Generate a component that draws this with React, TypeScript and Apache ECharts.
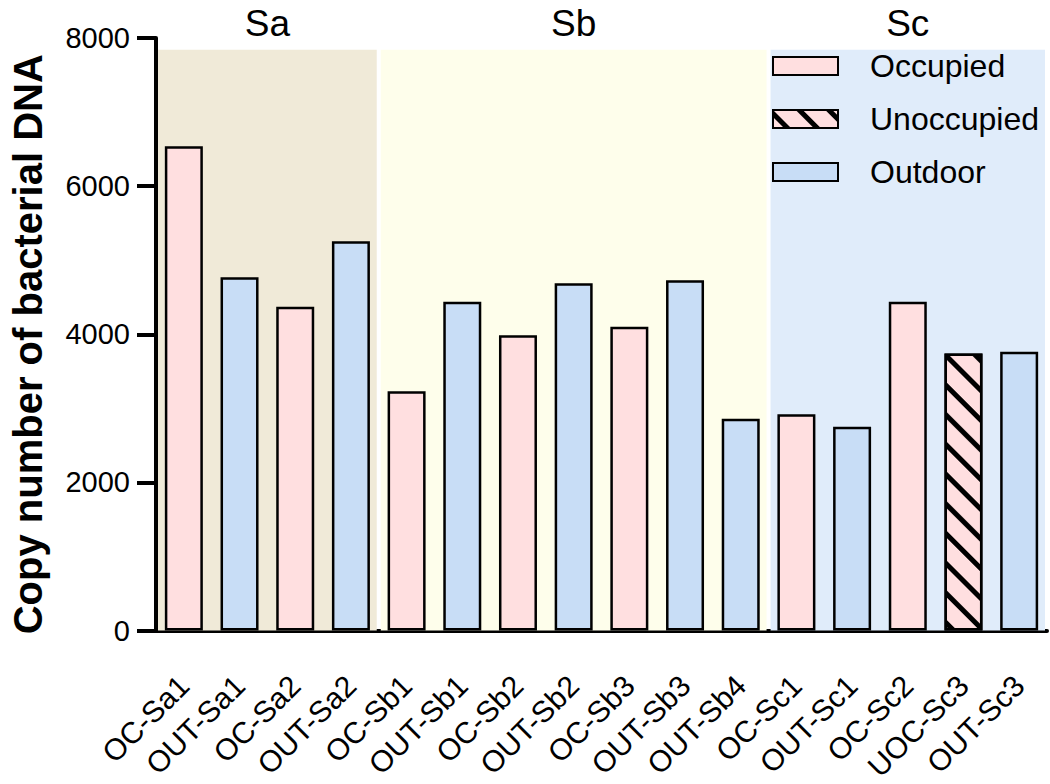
import React, { useEffect, useRef } from "react";
import * as echarts from "echarts";

const categories = [
  "OC-Sa1", "OUT-Sa1", "OC-Sa2", "OUT-Sa2",
  "OC-Sb1", "OUT-Sb1", "OC-Sb2", "OUT-Sb2", "OC-Sb3", "OUT-Sb3", "OUT-Sb4",
  "OC-Sc1", "OUT-Sc1", "OC-Sc2", "UOC-Sc3", "OUT-Sc3",
];
const values = [6540, 4770, 4370, 5255, 3230, 4440, 3985, 4690, 4100, 4730, 2860, 2920, 2750, 4440, 3740, 3765];
const kinds = ["Occupied", "Outdoor", "Occupied", "Outdoor", "Occupied", "Outdoor", "Occupied", "Outdoor", "Occupied", "Outdoor", "Outdoor", "Occupied", "Outdoor", "Occupied", "Unoccupied", "Outdoor"];
const legendNames = ["Occupied", "Unoccupied", "Outdoor"];
const legendColors = ["#FFDFE0", "#FFDFE0", "#C8DDF6"];

const groupNames = ["Sa", "Sb", "Sc"];
const groupStart = [0, 4, 11];
const groupEnd = [3, 10, 15];
const groupColors = ["#F0EAD8", "#FEFEEB", "#E0ECFA"];
const BAND_TOP = 7840;

const yTicks = { min: 0, max: 8000, interval: 2000 };

const FONT = "Liberation Sans, Arial, Helvetica, sans-serif";

export default function App() {
  const ref = useRef<HTMLDivElement>(null);
  useEffect(() => {
    document.body.style.margin = "0";
    if (!ref.current) return;
    const chart = echarts.init(ref.current, undefined, { renderer: "svg" });
    const bandData = groupNames.map((n, i) => [groupStart[i], groupEnd[i], BAND_TOP, i]);
    const barSeries = legendNames.map((name, k) => ({
      name,
      type: "bar",
      stack: "all",
      barWidth: 38,
      z: 3,
      data: values.map((v, i) => (kinds[i] === name ? v : "-")),
      itemStyle: {
        color: legendColors[k],
        borderColor: "#000",
        borderWidth: 2.5,
        ...(name === "Unoccupied"
          ? {
              decal: {
                symbol: "rect",
                symbolSize: 1,
                dashArrayX: [1, 0],
                dashArrayY: [5, 16],
                rotation: Math.PI / 4,
                color: "#000",
              },
            }
          : {}),
      },
    }));
    chart.setOption({
      animation: false,
      grid: { left: 153, right: 3, top: 38, bottom: 149, containLabel: false },
      legend: {
        orient: "vertical",
        left: 772,
        top: 50,
        padding: 0,
        icon: "rect",
        itemWidth: 65,
        itemHeight: 18,
        itemGap: 21,
        selectedMode: false,
        data: legendNames,
        textStyle: { fontFamily: FONT, fontSize: 32, color: "#000", padding: [0, 0, 0, 27] },
      },
      xAxis: {
        type: "category",
        data: categories,
        axisLine: { lineStyle: { color: "#000", width: 4 } },
        axisTick: { alignWithLabel: true, length: 19, lineStyle: { color: "#000", width: 4 } },
        axisLabel: { rotate: 45, interval: 0, margin: 50, fontFamily: FONT, fontSize: 30, color: "#000" },
      },
      yAxis: {
        type: "value",
        min: yTicks.min,
        max: yTicks.max,
        interval: yTicks.interval,
        name: "Copy number of bacterial DNA",
        nameLocation: "middle",
        nameGap: 108,
        nameTextStyle: { fontFamily: FONT, fontSize: 40, fontWeight: "bold", color: "#000", padding: [0, 20, 0, 0] },
        axisLine: { show: true, lineStyle: { color: "#000", width: 4 } },
        axisTick: { show: true, length: 19, lineStyle: { color: "#000", width: 4 } },
        axisLabel: { margin: 26, fontFamily: FONT, fontSize: 29, color: "#000", formatter: (v: number) => String(v) },
        splitLine: { show: false },
      },
      series: [
        {
          type: "custom",
          z: 1,
          clip: false,
          silent: true,
          encode: { x: 0, y: 2 },
          data: bandData,
          renderItem: (params: any, api: any) => {
            const s = api.value(0);
            const e = api.value(1);
            const top = api.value(2);
            const idx = api.value(3);
            const bw = api.size([1, 0])[0];
            const x0 = api.coord([s, 0])[0] - bw / 2 + 2;
            const x1 = api.coord([e, 0])[0] + bw / 2 - 2;
            const y0 = api.coord([s, 0])[1];
            const yT = api.coord([s, top])[1];
            const yMax = api.coord([s, yTicks.max])[1];
            return {
              type: "group",
              children: [
                {
                  type: "rect",
                  shape: { x: x0, y: yT, width: x1 - x0, height: y0 - yT },
                  style: { fill: groupColors[idx] },
                },
                {
                  type: "text",
                  style: {
                    text: groupNames[idx],
                    x: (x0 + x1) / 2,
                    y: yMax - 15,
                    align: "center",
                    verticalAlign: "middle",
                    fontFamily: FONT,
                    fontSize: 37,
                    fill: "#000",
                  },
                },
              ],
            };
          },
        },
        ...barSeries,
      ],
    });
    return () => chart.dispose();
  }, []);
  return <div ref={ref} style={{ width: 1050, height: 784 }} />;
}
